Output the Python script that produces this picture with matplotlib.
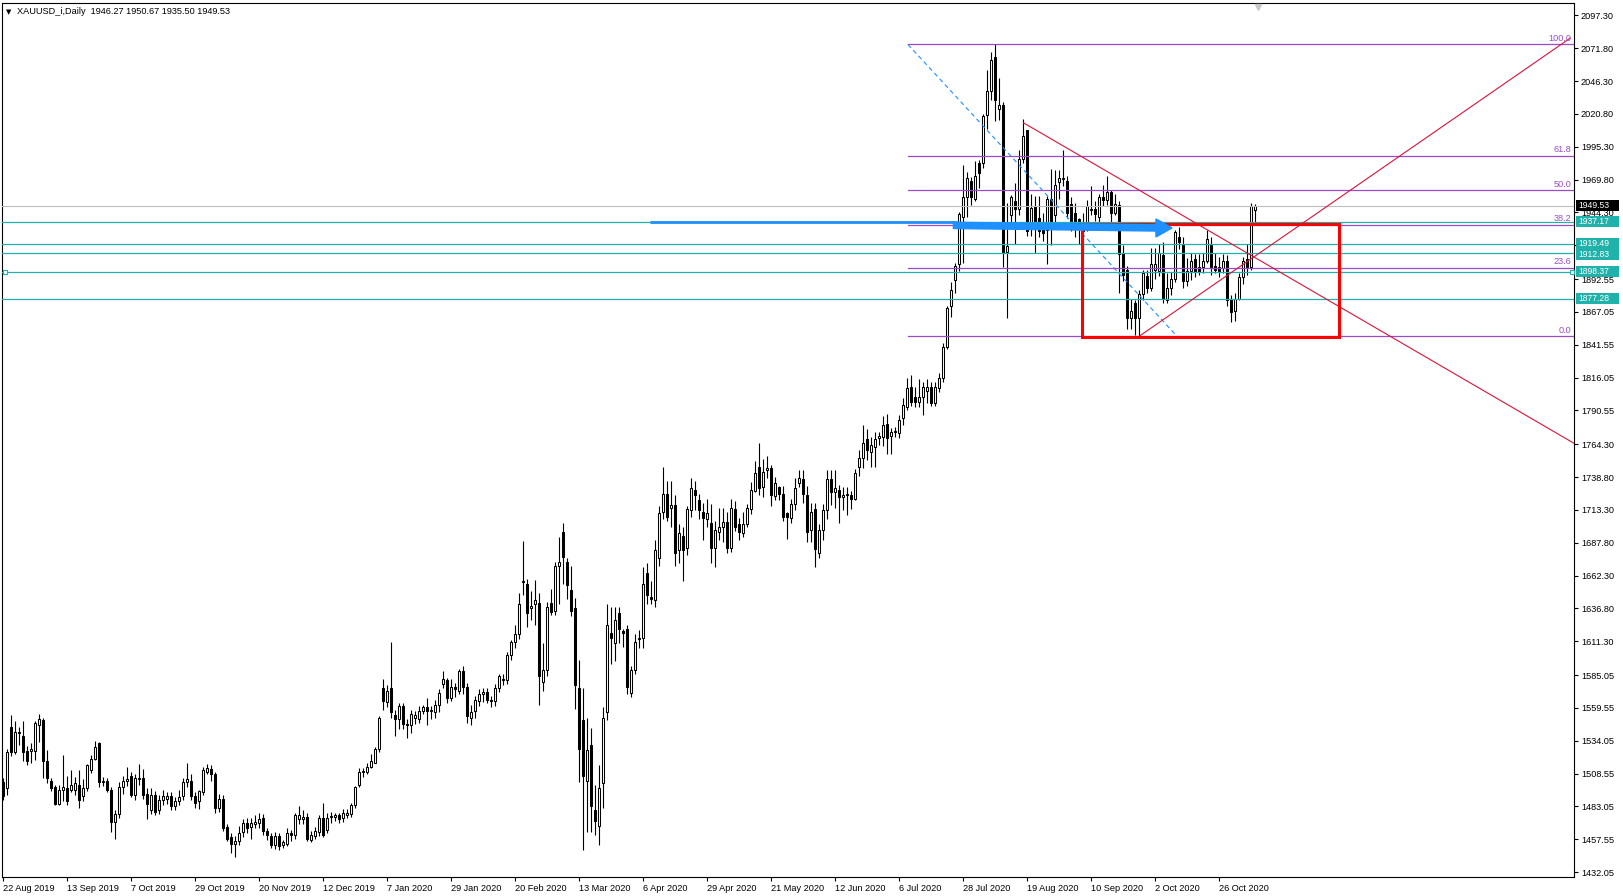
import matplotlib
matplotlib.use("Agg")
import matplotlib.pyplot as plt
from matplotlib.patches import Rectangle, Polygon
from matplotlib.transforms import blended_transform_factory, IdentityTransform
import numpy as np

# ---- daily OHLC, XAUUSD 22 Aug 2019 .. 6 Nov 2020 ----
opens = [
    1502, 1497, 1545, 1525, 1540, 1538, 1526, 1526, 1526, 1546, 1550, 1518, 1503, 1498, 1485, 1496,
    1497, 1496, 1496, 1500, 1491, 1497, 1511, 1520, 1532, 1502, 1503, 1496, 1471, 1477, 1498, 1503,
    1507, 1492, 1504, 1505, 1493, 1480, 1492, 1480, 1488, 1489, 1491, 1483, 1487, 1491, 1502, 1503,
    1491, 1487, 1494, 1510, 1512, 1508, 1482, 1489, 1467, 1459, 1454, 1456, 1463, 1470, 1467, 1469,
    1470, 1474, 1464, 1460, 1453, 1460, 1453, 1454, 1462, 1461, 1473, 1473, 1475, 1457, 1460, 1463,
    1474, 1465, 1475, 1475, 1476, 1474, 1476, 1477, 1484, 1500, 1510, 1510, 1514, 1517, 1528, 1575,
    1564, 1575, 1554, 1551, 1561, 1547, 1546, 1552, 1551, 1557, 1560, 1557, 1556, 1562, 1578, 1581,
    1567, 1576, 1573, 1588, 1576, 1552, 1557, 1565, 1570, 1572, 1566, 1565, 1575, 1582, 1581, 1601,
    1611, 1617, 1657, 1656, 1637, 1640, 1641, 1580, 1589, 1641, 1635, 1670, 1696, 1673, 1651, 1637,
    1575, 1550, 1503, 1531, 1480, 1468, 1501, 1556, 1618, 1610, 1633, 1619, 1621, 1571, 1589, 1613,
    1614, 1664, 1646, 1643, 1676, 1712, 1726, 1715, 1717, 1682, 1693, 1684, 1713, 1729, 1721, 1712,
    1706, 1703, 1684, 1696, 1700, 1704, 1684, 1714, 1702, 1695, 1702, 1714, 1728, 1747, 1731, 1744,
    1746, 1724, 1731, 1726, 1711, 1707, 1718, 1734, 1737, 1725, 1698, 1714, 1680, 1698, 1713, 1737,
    1727, 1729, 1723, 1725, 1725, 1722, 1747, 1754, 1768, 1758, 1762, 1769, 1770, 1780, 1771, 1774,
    1773, 1785, 1793, 1809, 1801, 1797, 1801, 1806, 1809, 1796, 1808, 1816, 1840, 1872, 1892, 1904,
    1941, 1956, 1969, 1955, 1983, 1983, 2020, 2039, 2065, 2025, 2028, 1914, 1942, 1953, 1947, 1986,
    2008, 1934, 1949, 1940, 1936, 1931, 1955, 1942, 1968, 1970, 1969, 1951, 1944, 1939, 1936, 1936,
    1946, 1947, 1941, 1956, 1954, 1960, 1944, 1950, 1913, 1900, 1862, 1874, 1862, 1881, 1895, 1886,
    1900, 1899, 1911, 1876, 1886, 1893, 1925, 1920, 1891, 1899, 1908, 1902, 1902, 1907, 1919, 1903,
    1902, 1901, 1907, 1876, 1868, 1877, 1894, 1908, 1902, 1946.27,
]
highs = [
    1505, 1528, 1554, 1549, 1545, 1549, 1530, 1532, 1549, 1555, 1552, 1527, 1505, 1500, 1500, 1523,
    1507, 1511, 1506, 1511, 1504, 1516, 1523, 1534, 1533, 1506, 1505, 1498, 1480, 1502, 1507, 1514,
    1510, 1508, 1516, 1512, 1497, 1497, 1495, 1492, 1496, 1494, 1494, 1490, 1496, 1505, 1517, 1508,
    1494, 1496, 1514, 1516, 1515, 1510, 1493, 1492, 1469, 1462, 1460, 1468, 1473, 1474, 1474, 1476,
    1478, 1477, 1466, 1462, 1463, 1462, 1457, 1466, 1465, 1478, 1483, 1480, 1478, 1464, 1467, 1476,
    1486, 1478, 1479, 1478, 1478, 1481, 1481, 1486, 1499, 1513, 1513, 1517, 1524, 1529, 1553, 1582,
    1577, 1611, 1558, 1563, 1563, 1551, 1558, 1557, 1561, 1562, 1567, 1561, 1566, 1574, 1588, 1583,
    1582, 1579, 1590, 1592, 1579, 1562, 1569, 1574, 1575, 1575, 1569, 1578, 1586, 1586, 1603, 1612,
    1624, 1649, 1689, 1660, 1650, 1659, 1649, 1610, 1642, 1652, 1673, 1692, 1703, 1676, 1670, 1645,
    1597, 1575, 1552, 1544, 1500, 1515, 1560, 1640, 1638, 1638, 1638, 1621, 1624, 1592, 1617, 1620,
    1669, 1672, 1658, 1690, 1716, 1747, 1736, 1736, 1725, 1702, 1700, 1716, 1738, 1736, 1726, 1719,
    1722, 1718, 1705, 1715, 1715, 1712, 1722, 1720, 1707, 1712, 1718, 1735, 1751, 1765, 1753, 1755,
    1748, 1739, 1732, 1732, 1712, 1722, 1738, 1744, 1744, 1732, 1719, 1719, 1702, 1718, 1744, 1744,
    1744, 1733, 1731, 1731, 1728, 1745, 1760, 1779, 1776, 1770, 1774, 1774, 1786, 1788, 1777, 1778,
    1787, 1800, 1816, 1818, 1809, 1815, 1813, 1815, 1813, 1813, 1820, 1843, 1872, 1890, 1905, 1945,
    1981, 1976, 1972, 1984, 1985, 2021, 2055, 2069, 2075, 2049, 2030, 1952, 1958, 1967, 1993, 2017,
    2008, 1959, 1957, 1957, 1944, 1957, 1978, 1977, 1977, 1993, 1973, 1956, 1952, 1940, 1944, 1954,
    1965, 1953, 1959, 1966, 1973, 1962, 1959, 1953, 1919, 1903, 1877, 1876, 1884, 1900, 1900, 1917,
    1917, 1920, 1921, 1897, 1898, 1931, 1933, 1925, 1909, 1913, 1912, 1912, 1913, 1931, 1925, 1913,
    1910, 1912, 1911, 1880, 1882, 1897, 1910, 1920, 1952, 1950.67,
]
lows = [
    1488, 1492, 1522, 1524, 1531, 1518, 1515, 1517, 1519, 1533, 1505, 1501, 1495, 1484, 1484, 1487,
    1484, 1494, 1492, 1482, 1487, 1495, 1509, 1519, 1498, 1499, 1494, 1463, 1458, 1474, 1493, 1499,
    1490, 1488, 1500, 1489, 1473, 1477, 1476, 1477, 1484, 1485, 1480, 1480, 1484, 1488, 1498, 1488,
    1482, 1481, 1492, 1508, 1503, 1478, 1479, 1464, 1456, 1447, 1444, 1453, 1459, 1462, 1458, 1466,
    1466, 1461, 1457, 1451, 1450, 1449, 1451, 1452, 1456, 1458, 1469, 1469, 1456, 1455, 1458, 1460,
    1459, 1462, 1470, 1472, 1470, 1471, 1474, 1475, 1482, 1498, 1506, 1508, 1513, 1517, 1525, 1558,
    1560, 1552, 1538, 1543, 1543, 1536, 1540, 1547, 1548, 1555, 1546, 1551, 1552, 1556, 1575, 1563,
    1565, 1568, 1570, 1570, 1548, 1546, 1552, 1561, 1564, 1563, 1560, 1561, 1572, 1577, 1578, 1597,
    1606, 1613, 1647, 1622, 1628, 1624, 1562, 1573, 1584, 1632, 1632, 1640, 1656, 1644, 1631, 1559,
    1502, 1449, 1463, 1463, 1461, 1453, 1482, 1550, 1594, 1596, 1610, 1607, 1570, 1568, 1586, 1606,
    1606, 1640, 1640, 1638, 1670, 1706, 1705, 1700, 1670, 1672, 1658, 1678, 1708, 1713, 1706, 1690,
    1700, 1672, 1669, 1690, 1688, 1680, 1681, 1697, 1690, 1692, 1700, 1710, 1727, 1725, 1723, 1738,
    1716, 1721, 1721, 1705, 1691, 1703, 1713, 1731, 1719, 1688, 1688, 1669, 1676, 1690, 1706, 1717,
    1715, 1703, 1713, 1709, 1714, 1721, 1740, 1746, 1752, 1747, 1747, 1764, 1763, 1757, 1757, 1770,
    1769, 1779, 1791, 1794, 1793, 1793, 1787, 1796, 1794, 1794, 1805, 1813, 1838, 1863, 1882, 1899,
    1905, 1941, 1950, 1953, 1963, 1979, 2009, 2032, 2015, 2016, 1902, 1862, 1932, 1920, 1942, 1983,
    1926, 1926, 1913, 1925, 1922, 1904, 1919, 1934, 1955, 1965, 1940, 1930, 1925, 1920, 1912, 1930,
    1942, 1938, 1937, 1949, 1950, 1931, 1942, 1882, 1891, 1854, 1854, 1849, 1848, 1876, 1882, 1883,
    1893, 1895, 1874, 1874, 1880, 1890, 1916, 1886, 1887, 1892, 1894, 1896, 1897, 1905, 1896, 1897,
    1894, 1897, 1872, 1859, 1860, 1876, 1889, 1896, 1900, 1935.50,
]
closes = [
    1491, 1525, 1525, 1541, 1540, 1525, 1518, 1528, 1548, 1551, 1518, 1505, 1497, 1485, 1496, 1498,
    1487, 1500, 1501, 1488, 1497, 1515, 1520, 1529, 1502, 1503, 1496, 1471, 1477, 1498, 1503, 1504,
    1492, 1505, 1505, 1492, 1485, 1492, 1479, 1488, 1491, 1491, 1483, 1487, 1490, 1502, 1504, 1491,
    1486, 1495, 1511, 1513, 1508, 1482, 1489, 1466, 1458, 1454, 1456, 1462, 1470, 1466, 1470, 1471,
    1473, 1464, 1461, 1453, 1460, 1452, 1455, 1462, 1461, 1476, 1476, 1475, 1458, 1461, 1464, 1474,
    1461, 1474, 1475, 1476, 1473, 1478, 1478, 1484, 1498, 1510, 1510, 1514, 1518, 1528, 1552, 1565,
    1573, 1556, 1551, 1561, 1547, 1546, 1555, 1554, 1557, 1560, 1557, 1558, 1562, 1571, 1582, 1567,
    1576, 1574, 1588, 1576, 1553, 1556, 1566, 1570, 1572, 1566, 1565, 1575, 1584, 1581, 1601, 1611,
    1617, 1640, 1658, 1633, 1639, 1643, 1584, 1589, 1638, 1634, 1670, 1673, 1677, 1655, 1635, 1577,
    1528, 1507, 1527, 1483, 1472, 1497, 1552, 1624, 1614, 1628, 1621, 1618, 1576, 1589, 1611, 1614,
    1656, 1647, 1644, 1682, 1711, 1726, 1708, 1717, 1680, 1695, 1682, 1714, 1730, 1725, 1713, 1707,
    1711, 1684, 1698, 1700, 1704, 1684, 1715, 1700, 1696, 1702, 1715, 1729, 1742, 1730, 1743, 1746,
    1725, 1734, 1726, 1708, 1708, 1718, 1730, 1738, 1726, 1696, 1712, 1683, 1698, 1713, 1737, 1727,
    1730, 1723, 1725, 1726, 1722, 1742, 1754, 1765, 1760, 1764, 1768, 1771, 1779, 1769, 1774, 1774,
    1783, 1795, 1808, 1797, 1797, 1801, 1809, 1809, 1796, 1809, 1816, 1840, 1870, 1884, 1903, 1943,
    1956, 1971, 1956, 1973, 1975, 2019, 2039, 2063, 2032, 2028, 1913, 1918, 1956, 1947, 1986, 2004,
    1930, 1948, 1934, 1930, 1928, 1955, 1932, 1966, 1971, 1971, 1944, 1932, 1934, 1932, 1930, 1949,
    1947, 1943, 1956, 1954, 1960, 1944, 1951, 1912, 1896, 1862, 1868, 1862, 1881, 1897, 1886, 1904,
    1904, 1913, 1877, 1886, 1893, 1929, 1921, 1891, 1899, 1907, 1898, 1898, 1907, 1924, 1902, 1900,
    1899, 1907, 1876, 1867, 1877, 1894, 1907, 1902, 1949, 1949.53,
]

date_labels = ["22 Aug 2019", "13 Sep 2019", "7 Oct 2019", "29 Oct 2019", "20 Nov 2019",
               "12 Dec 2019", "7 Jan 2020", "29 Jan 2020", "20 Feb 2020", "13 Mar 2020",
               "6 Apr 2020", "29 Apr 2020", "21 May 2020", "12 Jun 2020", "6 Jul 2020",
               "28 Jul 2020", "19 Aug 2020", "10 Sep 2020", "2 Oct 2020", "26 Oct 2020"]
price_ticks = [2097.30, 2071.80, 2046.30, 2020.80, 1995.30, 1969.80, 1944.30, 1918.80,
               1892.55, 1867.05, 1841.55, 1816.05, 1790.55, 1764.30, 1738.80, 1713.30,
               1687.80, 1662.30, 1636.80, 1611.30, 1585.05, 1559.55, 1534.05, 1508.55,
               1483.05, 1457.55, 1432.05]
hidden_ticks = [1918.80]   # covered by the line labels in the original

# drawn objects (bar index, price)
hlines_teal = [1937.17, 1919.49, 1912.83, 1898.37, 1877.28]
bid = 1949.53
fib_start, fib_end = (226.3, 2074.8), (293.6, 1848.0)
fib_ratios = [1.0, 0.618, 0.5, 0.382, 0.236, 0.0]
fib_names = ["100.0", "61.8", "50.0", "38.2", "23.6", "0.0"]
trend_down = [(255.15, 2014.0), (393.1, 1764.5)]
trend_up = [(284.3, 1848.6), (391.8, 2079.6)]
box = (269.7, 1847.7, 334.0, 1935.0)
header = "XAUUSD_i,Daily  1946.27 1950.67 1935.50 1949.53"

TEAL = "#20B2AA"
PURPLE = "#9A4BC8"
RED = "#FF0000"
CRIMSON = "#D8143A"
BLUE = "#1E90FF"
FS = 6.6
plt.rcParams["font.family"] = ["Liberation Sans", "DejaVu Sans"]

W, H, DPI = 1623, 896, 100
fig = plt.figure(figsize=(W / DPI, H / DPI), dpi=DPI)
ax = fig.add_axes([2 / W, 19 / H, 1572 / W, 874 / H])
ax.set_xlim(-0.175, 392.8)
ax.set_ylim(1428.2, 2107.0)

o = np.array(opens, float)
h = np.array(highs, float)
l = np.array(lows, float)
c = np.array(closes, float)
x = np.arange(len(c))
up = c >= o

# candles
ax.vlines(x, l, h, color="black", lw=0.8, zorder=2)
body_low = np.minimum(o, c)
body_h = np.maximum(np.abs(c - o), 0.5)
ax.bar(x, body_h, bottom=body_low, width=0.6,
       color=np.where(up, "white", "black"), edgecolor="black", linewidth=0.75, zorder=3)

# horizontal lines
ax.axhline(bid, color="#BDBDBD", lw=0.8, zorder=4)
for p in hlines_teal:
    ax.axhline(p, color=TEAL, lw=0.9, zorder=4)
ax.plot([0.6, 392.3], [1898.37, 1898.37], ls="none", marker="s", ms=3.2,
        mfc="white", mec=TEAL, mew=0.8, clip_on=False, zorder=6)

# fibonacci
f_hi, f_lo = fib_start[1], fib_end[1]
ax.plot([fib_start[0], fib_end[0]], [fib_start[1], fib_end[1]],
        color=BLUE, lw=0.8, ls=(0, (4, 3)), zorder=4)
yr = blended_transform_factory(ax.transAxes, ax.transData)
for r, name in zip(fib_ratios, fib_names):
    lvl = f_lo + r * (f_hi - f_lo)
    ax.plot([fib_start[0], 400], [lvl, lvl], color=PURPLE, lw=0.9, zorder=4)
    ax.text(0.9985, lvl + 1.2, name, transform=yr, ha="right", va="bottom",
            fontsize=FS, color=PURPLE, zorder=7)

# trend lines
for seg in (trend_down, trend_up):
    ax.plot([seg[0][0], seg[1][0]], [seg[0][1], seg[1][1]], color=CRIMSON, lw=0.8, zorder=4)

# red box
ax.add_patch(Rectangle((box[0], box[1]), box[2] - box[0], box[3] - box[1],
                       fill=False, edgecolor=RED, lw=2.2, zorder=5))

# blue arrow
ax.plot([161.8, 238.5], [1937.3, 1937.3], color=BLUE, lw=2.0, solid_capstyle="butt", zorder=6)
ax.plot([237.5, 288.6], [1934.3, 1932.3], color=BLUE, lw=5.5, solid_capstyle="butt", zorder=6)
ax.add_patch(Polygon([(288.3, 1939.3), (292.3, 1932.3), (288.3, 1925.3)],
                     closed=True, color=BLUE, zorder=6))

# axes styling
for sp in ax.spines.values():
    sp.set_color("black")
    sp.set_linewidth(0.8)
ax.yaxis.tick_right()
ax.set_yticks(price_ticks)
ax.set_yticklabels(["" if v in hidden_ticks else f"{v:.2f}" for v in price_ticks])
ax.tick_params(axis="y", length=3, width=0.8, pad=2, labelsize=FS, direction="out")
ax.set_xticks(np.arange(0, 16 * len(date_labels), 16))
ax.set_xticklabels(date_labels)
ax.tick_params(axis="x", length=3, width=0.8, pad=2, labelsize=FS, direction="out")
for lbl in ax.get_xticklabels():
    lbl.set_ha("left")

# price labels on the axis (drawn in pixel space so touching boxes stay compact)
ident = IdentityTransform()
x_box = ax.transAxes.transform((1, 0))[0] + 2


def axis_label(p, fc, nudge=0.0):
    yd = ax.transData.transform((0, p))[1] + nudge
    fig.patches.append(Rectangle((x_box, yd - 5.5), 43, 11, transform=ident,
                                 fc=fc, ec="none", zorder=10))
    fig.text(x_box + 2.5, yd, f"{p:.2f}", transform=ident, ha="left",
             va="center", fontsize=6.2, color="white", zorder=11)


nudges = {1919.49: 1.3, 1912.83: -1.3}
for p in hlines_teal:
    axis_label(p, TEAL, nudges.get(p, 0.0))
axis_label(bid, "black")

# chart shift marker and header
ax.plot(313.7, 2104.0, marker="v", ms=5, color="#C8C8C8", clip_on=False, zorder=7)
fig.text(6 / W, 1 - 12 / H, "\u25bc", fontsize=5, va="center", family=["DejaVu Sans"])
fig.text(17 / W, 1 - 12 / H, header, fontsize=FS, va="center")

fig.savefig("out.png", dpi=DPI, facecolor="white")
